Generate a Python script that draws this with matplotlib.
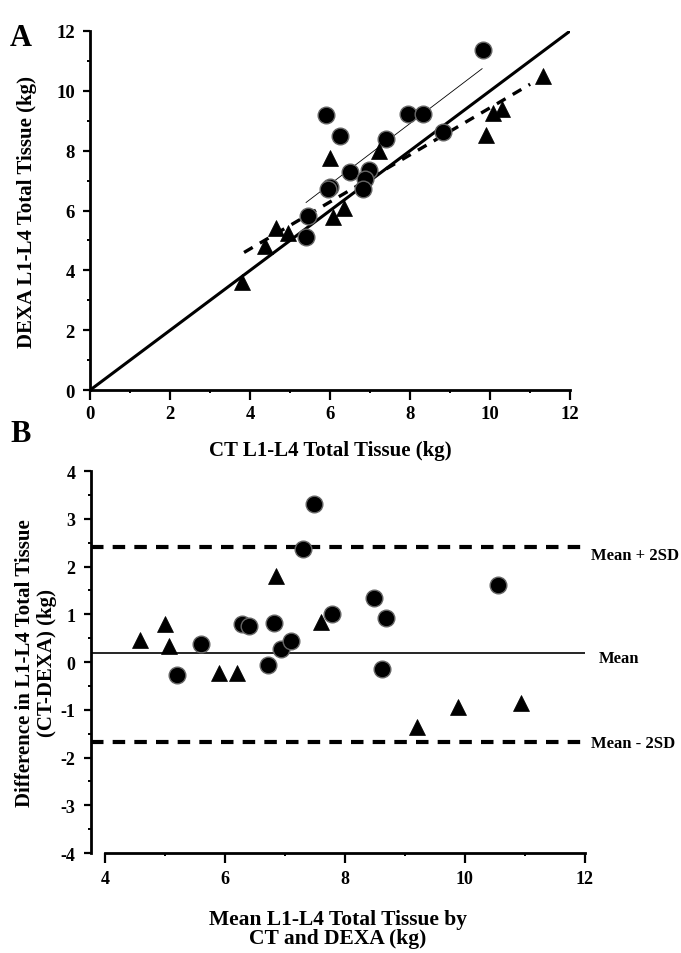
# CT vs DEXA L1-L4 total tissue: scatter (A) and Bland-Altman (B)

import numpy as np
import matplotlib
matplotlib.use('Agg')
import matplotlib.pyplot as plt
from matplotlib.ticker import MultipleLocator, FuncFormatter

plt.rcParams['font.family'] = ['Liberation Serif', 'DejaVu Serif']
plt.rcParams['font.weight'] = 'bold'
plt.rcParams['axes.unicode_minus'] = False

# panel A data (kg)
ct_circ = [9.82, 5.90, 6.24, 7.94, 8.31, 7.39, 8.81, 6.51, 6.97, 6.88, 6.00, 5.95, 6.83, 5.44, 5.40]
dexa_circ = [11.37, 9.18, 8.50, 9.22, 9.22, 8.40, 8.62, 7.28, 7.35, 7.05, 6.78, 6.72, 6.72, 5.83, 5.10]
ct_tri = [11.33, 9.90, 10.08, 10.30, 6.00, 7.23, 6.35, 6.07, 4.94, 4.65, 4.37, 3.80]
dexa_tri = [10.50, 8.53, 9.27, 9.40, 7.75, 7.98, 6.08, 5.80, 5.25, 5.42, 4.82, 3.62]

# fitted lines
ident_x = [0, 12]
ident_y = [0, 12]
fit_circ_x = [5.40, 9.80]
fit_circ_y = [6.27, 10.74]
fit_tri_x = [3.85, 11.0]
fit_tri_y = [4.60, 10.22]

# panel B data
mean_circ = [5.21, 5.61, 6.29, 6.40, 6.82, 6.72, 6.94, 7.10, 7.31, 7.48, 7.79, 10.55, 8.49, 8.68, 8.62]
diff_circ = [-0.27, 0.38, 0.80, 0.76, 0.82, -0.07, 0.27, 0.43, 2.36, 3.30, 1.00, 1.62, 1.34, 0.92, -0.15]
mean_tri = [4.58, 5.01, 5.07, 5.90, 6.20, 6.85, 7.60, 9.20, 9.88, 10.93]
diff_tri = [0.47, 0.80, 0.34, -0.24, -0.24, 1.80, 0.84, -1.36, -0.94, -0.86]

mean_line = 0.19
upper_line = 2.40
lower_line = -1.67

fig = plt.figure(figsize=(6.81, 9.54), dpi=100)

circ_kw = dict(linestyle='none', marker='o', ms=12, mfc='black', mec='#666666', mew=1.0)
tri_kw = dict(linestyle='none', marker='^', ms=12, mfc='black', mec='black', mew=0.5)

def style_axes(ax, size, xpad=6):
    for s in ['top', 'right']:
        ax.spines[s].set_visible(False)
    for s in ['left', 'bottom']:
        ax.spines[s].set_linewidth(2)
    ax.tick_params(which='major', direction='out', length=5, width=1.6, labelsize=size, pad=6)
    ax.tick_params(axis='x', which='major', length=7, pad=xpad)
    ax.tick_params(which='minor', direction='out', length=2.5, width=1.4)
    for lab in ax.get_xticklabels() + ax.get_yticklabels():
        lab.set_fontweight('bold')

# ---- panel A ----
ax1 = fig.add_axes([0.1322, 0.590, 0.705, 0.3765])
ax1.set_xlim(0, 12)
ax1.set_ylim(0, 12)
ax1.plot(ident_x, ident_y, color='black', lw=2.2)
ax1.plot(fit_circ_x, fit_circ_y, color='black', lw=0.6)
ax1.plot(fit_tri_x, fit_tri_y, color='black', lw=2.4, dashes=(3, 2.5))
ax1.plot(ct_circ, dexa_circ, **circ_kw)
ax1.plot(ct_tri, dexa_tri, **tri_kw)
ax1.xaxis.set_major_locator(MultipleLocator(2))
ax1.xaxis.set_minor_locator(MultipleLocator(1))
ax1.yaxis.set_major_locator(MultipleLocator(2))
ax1.yaxis.set_minor_locator(MultipleLocator(1))
style_axes(ax1, 13.5, xpad=4)
ax1.set_xlabel('CT L1-L4 Total Tissue (kg)', fontsize=15, fontweight='bold', labelpad=13)
ax1.set_ylabel('DEXA L1-L4 Total Tissue (kg)', fontsize=15, fontweight='bold', labelpad=14)
fig.text(0.015, 0.975, 'A', fontsize=22, fontweight='bold', va='top')

# ---- panel B ----
ax2 = fig.add_axes([0.1336, 0.1048, 0.7254, 0.4004])
ax2.set_xlim(3.77, 12)
ax2.set_ylim(-4, 4)
ax2.spines['bottom'].set_bounds(4, 12)
ax2.axhline(upper_line, color='black', lw=3, dashes=(3, 2.2))
ax2.axhline(mean_line, color='black', lw=1.2)
ax2.axhline(lower_line, color='black', lw=3, dashes=(3, 2.2))
ax2.plot(mean_circ, diff_circ, **circ_kw)
ax2.plot(mean_tri, diff_tri, **tri_kw)
ax2.xaxis.set_major_locator(MultipleLocator(2))
ax2.xaxis.set_minor_locator(MultipleLocator(1))
ax2.yaxis.set_major_locator(MultipleLocator(1))
ax2.yaxis.set_minor_locator(MultipleLocator(0.5))
ax2.yaxis.set_major_formatter(FuncFormatter(lambda v, p: '%d' % v))
style_axes(ax2, 13, xpad=5)
ax2.set_xlabel('Mean L1-L4 Total Tissue by\nCT and DEXA (kg)', fontsize=15.5, fontweight='bold',
               labelpad=16, linespacing=0.92)
ax2.set_ylabel('Difference in L1-L4 Total Tissue\n(CT-DEXA) (kg)', fontsize=15, fontweight='bold',
               labelpad=3, linespacing=1.1)
ax2.text(12.1, upper_line - 0.15, 'Mean + 2SD', fontsize=12, fontweight='bold', va='center', ha='left')
ax2.text(12.23, mean_line - 0.1, 'Mean', fontsize=12, fontweight='bold', va='center', ha='left')
ax2.text(12.1, lower_line - 0.03, 'Mean - 2SD', fontsize=12, fontweight='bold', va='center', ha='left')
fig.text(0.015, 0.56, 'B', fontsize=22, fontweight='bold', va='top')

plt.savefig('out.png', dpi=100)
